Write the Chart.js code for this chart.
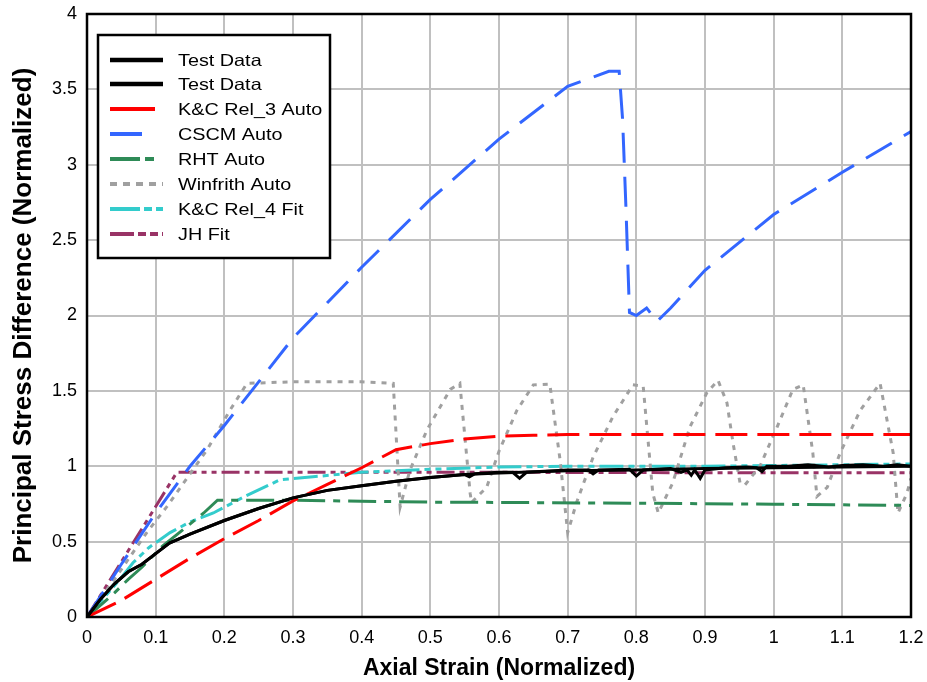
<!DOCTYPE html>
<html><head><meta charset="utf-8">
<script src="https://cdn.jsdelivr.net/npm/chart.js@4/dist/chart.umd.min.js"></script>
<style>html,body{margin:0;padding:0;background:#fff}#wrap{width:927px;height:682px}</style>
</head><body><div id="wrap"><canvas id="c" width="927" height="682"></canvas></div>
<script>
// ---- data ----
const xTicks = [0,0.1,0.2,0.3,0.4,0.5,0.6,0.7,0.8,0.9,1,1.1,1.2];
const yTicks = [0,0.5,1,1.5,2,2.5,3,3.5,4];

const testAX = [0,0.02,0.04,0.06,0.08,0.1,0.12,0.15,0.2,0.25,0.3,0.35,0.4,0.45,0.5,0.55,0.6,0.7,0.8,0.9,1.0,1.1,1.2];
const testAY = [0,0.12,0.22,0.3,0.35,0.42,0.49,0.55,0.64,0.72,0.79,0.84,0.87,0.9,0.925,0.945,0.955,0.97,0.975,0.985,0.99,0.995,1.0];

const testBX = [0,0.02,0.04,0.06,0.08,0.1,0.12,0.15,0.2,0.25,0.3,0.35,0.4,0.45,0.5,0.55,0.557,0.565,0.6,0.62,0.63,0.64,0.7,0.73,0.737,0.745,0.79,0.80,0.81,0.85,0.865,0.874,0.88,0.885,0.893,0.9,0.93,0.96,0.975,0.983,0.99,1.02,1.05,1.08,1.1,1.13,1.16,1.18,1.2];
const testBY = [0,0.12,0.22,0.3,0.35,0.42,0.49,0.55,0.64,0.72,0.79,0.84,0.87,0.9,0.925,0.945,0.93,0.95,0.96,0.96,0.92,0.96,0.975,0.975,0.95,0.975,0.98,0.935,0.975,0.985,0.96,0.975,0.94,0.975,0.92,0.975,0.99,0.995,0.99,0.965,1.0,1.0,1.01,0.995,1.005,1.01,1.0,1.01,1.0];

const kc3X = [0,0.05,0.1,0.15,0.2,0.25,0.3,0.35,0.4,0.45,0.5,0.55,0.6,0.65,0.7,0.8,0.9,1.0,1.1,1.2];
const kc3Y = [0,0.11,0.25,0.39,0.52,0.64,0.77,0.88,0.99,1.11,1.15,1.18,1.2,1.205,1.21,1.21,1.21,1.21,1.21,1.21];

const cscmX = [0,0.05,0.1,0.15,0.2,0.25,0.3,0.4,0.5,0.6,0.7,0.76,0.775,0.78,0.785,0.79,0.8,0.815,0.83,0.85,0.9,1.0,1.1,1.2];
const cscmY = [0,0.35,0.69,1.0,1.27,1.56,1.85,2.32,2.77,3.17,3.52,3.62,3.62,3.3,2.7,2.02,2.0,2.05,1.96,2.05,2.3,2.67,2.95,3.22];

const rhtX = [0,0.04,0.06,0.08,0.11,0.14,0.17,0.19,0.3,0.4,0.5,0.6,0.8,1.0,1.2];
const rhtY = [0,0.16,0.25,0.33,0.47,0.58,0.69,0.775,0.775,0.768,0.762,0.76,0.755,0.748,0.74];

const winX = [0,0.04,0.087,0.116,0.175,0.208,0.233,0.3,0.4,0.446,0.456,0.47,0.495,0.529,0.543,0.558,0.56,0.582,0.6,0.626,0.65,0.674,0.689,0.7,0.713,0.737,0.766,0.795,0.81,0.824,0.832,0.853,0.878,0.903,0.919,0.932,0.941,0.951,0.958,0.98,1.005,1.028,1.043,1.057,1.063,1.078,1.097,1.126,1.155,1.174,1.181,1.194,1.2];
const winY = [0,0.25,0.56,0.73,1.11,1.37,1.55,1.56,1.56,1.55,0.73,0.97,1.24,1.51,1.55,0.82,0.76,0.86,1.1,1.37,1.54,1.545,1.04,0.56,0.76,1.06,1.33,1.54,1.53,0.82,0.69,0.89,1.26,1.49,1.57,1.42,1.15,0.89,0.875,1.0,1.26,1.51,1.54,1.09,0.8,0.86,1.09,1.37,1.55,1.09,0.69,0.82,0.92];

const kc4X = [0,0.048,0.067,0.09,0.121,0.15,0.184,0.23,0.281,0.329,0.4,0.5,0.6,0.7,0.8,0.9,1.0,1.1,1.2];
const kc4Y = [0,0.25,0.36,0.46,0.56,0.63,0.69,0.8,0.91,0.93,0.96,0.98,0.995,1.0,1.0,1.0,1.005,1.01,1.015];

const jhX = [0,0.131,0.3,0.6,0.9,1.2];
const jhY = [0,0.96,0.96,0.96,0.957,0.957];

const labels = ['Test Data','Test Data','K&C Rel_3 Auto','CSCM Auto','RHT Auto','Winfrith Auto','K&C Rel_4 Fit','JH Fit'];

// ---- build ----
function pts(xs, ys){ return xs.map((x,i)=>({x:x,y:ys[i]})); }
const FONT = "'Liberation Sans', Arial, sans-serif";
const mk = (label, xs, ys, color, dash, legDash, legLen, w) => ({label, data: pts(xs,ys), borderColor: color, backgroundColor: color,
  borderDash: dash, borderWidth: w||3, showLine: true, pointRadius: 0, tension: 0, fill:false, borderCapStyle:'butt',
  legDash, legLen});

const datasets = [
  mk(labels[0], testAX, testAY, '#000000', [], [], 53, 3),
  mk(labels[1], testBX, testBY, '#000000', [], [], 53, 3),
  mk(labels[2], kc3X, kc3Y, '#ff0000', [32,10], [], 45),
  mk(labels[3], cscmX, cscmY, '#3366ff', [30,14], [], 32),
  mk(labels[4], rhtX, rhtY, '#2e8b57', [28,8,7,8], [30,5,9,9], 53),
  mk(labels[5], winX, winY, '#a0a0a0', [5,6], [7,6], 53),
  mk(labels[6], kc4X, kc4Y, '#33cccc', [24,5,6,5,6,5], [30,4,8,4,10,4], 53),
  mk(labels[7], jhX, jhY, '#993366', [18,5,5,5,5,5], [24,4,8,4,8,4], 53),
];

const legendPlugin = {
  id: 'boxLegend',
  afterDatasetsDraw(chart){
    const ctx = chart.ctx;
    ctx.save();
    const L=98, T=35, W=232, H=223;
    ctx.fillStyle='#fff'; ctx.fillRect(L,T,W,H);
    ctx.strokeStyle='#000'; ctx.lineWidth=2.5; ctx.setLineDash([]); ctx.strokeRect(L,T,W,H);
    const rows=[60,84,109,134,159,184,209,234];
    chart.data.datasets.forEach((ds,i)=>{
      const y=rows[i];
      ctx.beginPath(); ctx.strokeStyle=ds.borderColor; ctx.lineWidth=(i<2?4.5:4);
      ctx.setLineDash(ds.legDash||[]); ctx.lineCap='butt';
      ctx.moveTo(110,y); ctx.lineTo(110+ds.legLen,y); ctx.stroke();
      ctx.setLineDash([]);
      ctx.save();
      ctx.translate(178,y+1); ctx.scale(1.2,1);
      ctx.fillStyle='#000'; ctx.font='16.5px '+FONT; ctx.textBaseline='middle'; ctx.textAlign='left';
      ctx.fillText(ds.label,0,0);
      ctx.restore();
    });
    ctx.restore();
  }
};
const borderPlugin = {
  id:'frame',
  afterDatasetsDraw(chart){
    const a=chart.chartArea, ctx=chart.ctx;
    ctx.save(); ctx.strokeStyle='#000'; ctx.lineWidth=2.5; ctx.setLineDash([]);
    ctx.strokeRect(a.left,a.top,a.right-a.left,a.bottom-a.top); ctx.restore();
  }
};

new Chart(document.getElementById('c'), {
  type: 'scatter',
  data: { datasets },
  options: {
    responsive:false, animation:false, devicePixelRatio:1,
    layout:{padding:{top:14,right:16,left:0,bottom:0}},
    plugins:{legend:{display:false}, tooltip:{enabled:false}},
    scales:{
      x:{type:'linear', min:0, max:1.2,
        afterBuildTicks: s => { s.ticks = xTicks.map(v=>({value:v})); },
        afterFit: s => { s.height = 65; s.paddingLeft = 0; s.paddingRight = 0; },
        grid:{color:'#c0c0c0', lineWidth:2, drawTicks:false},
        border:{display:false},
        ticks:{color:'#000', font:{family:FONT,size:18}, padding:10, maxRotation:0,
          callback: v => String(+v.toFixed(1))},
        title:{display:true, text:'Axial Strain (Normalized)', color:'#000', font:{family:FONT,size:23,weight:'bold'}, padding:{top:2,bottom:0}}
      },
      y:{type:'linear', min:0, max:4,
        afterBuildTicks: s => { s.ticks = yTicks.map(v=>({value:v})); },
        afterFit: s => { s.width = 87; s.paddingTop = 0; s.paddingBottom = 0; },
        grid:{color:'#c0c0c0', lineWidth:2, drawTicks:false},
        border:{display:false},
        ticks:{color:'#000', font:{family:FONT,size:18}, padding:10,
          callback: v => String(+v.toFixed(1))},
        title:{display:true, text:'Principal Stress Difference (Normalized)', color:'#000', font:{family:FONT,size:26,weight:'bold'}, padding:{top:8,bottom:0}}
      }
    }
  },
  plugins:[borderPlugin, legendPlugin]
});
</script></body></html>
